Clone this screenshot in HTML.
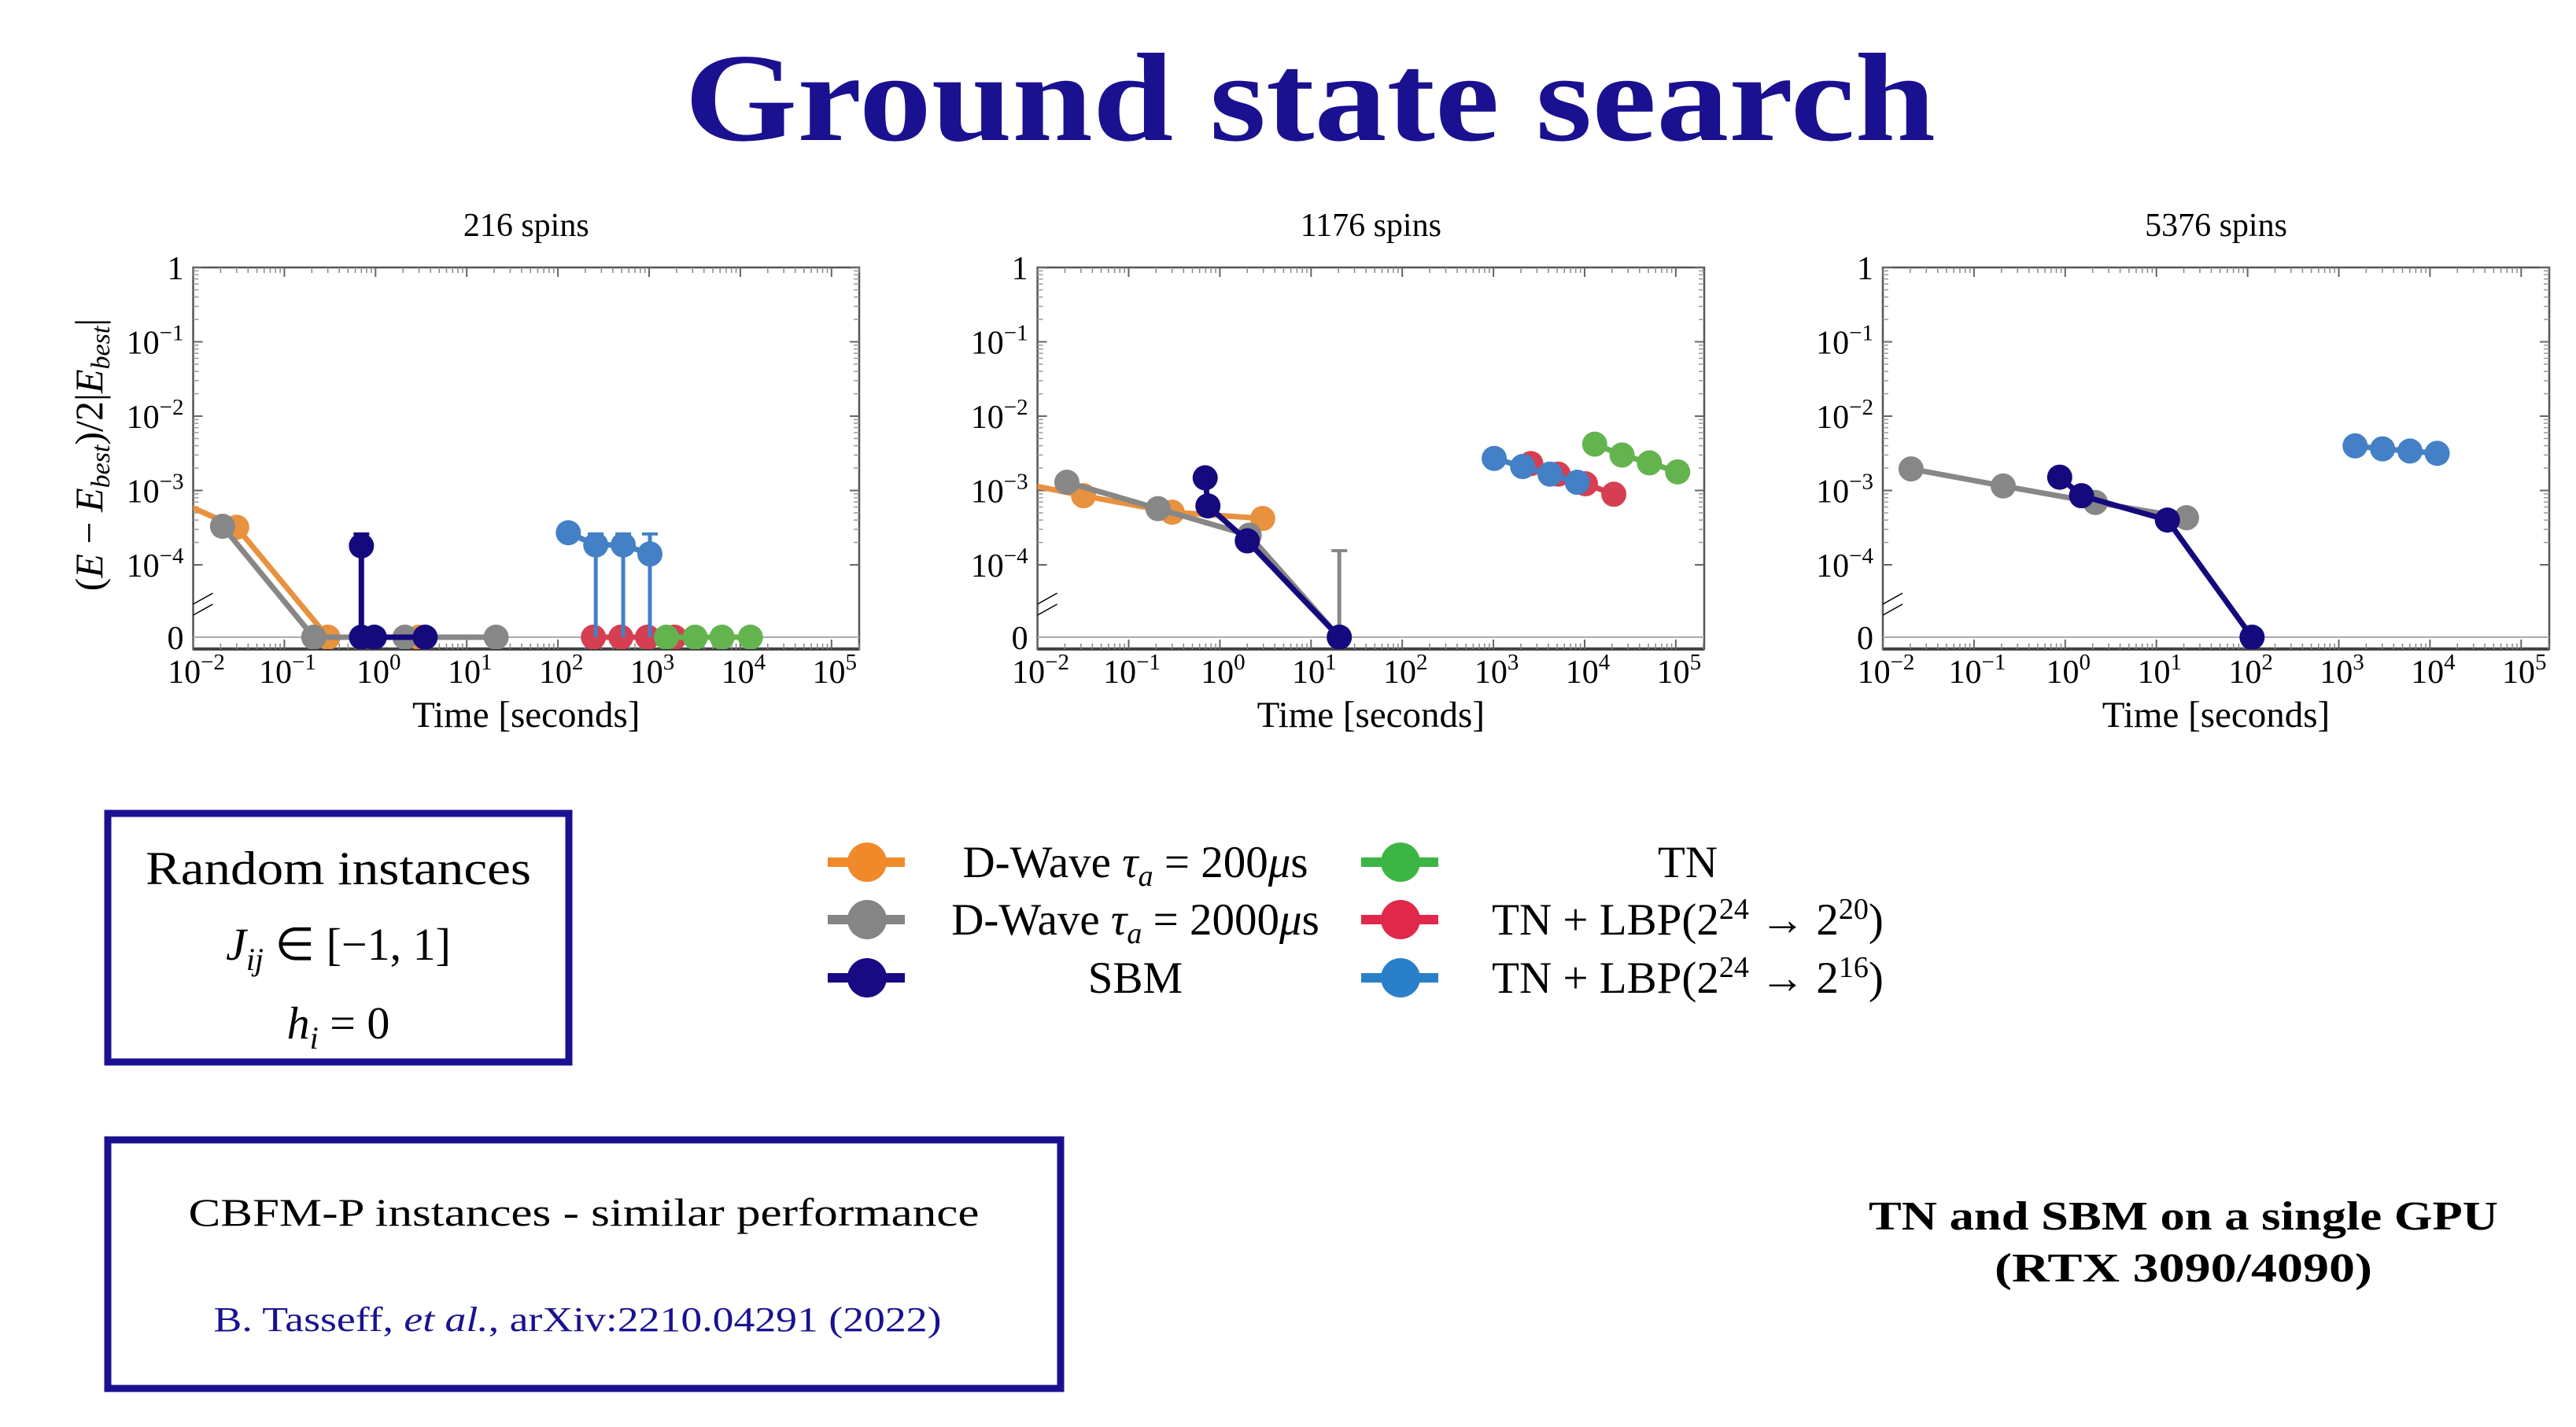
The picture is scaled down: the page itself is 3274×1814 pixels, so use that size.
<!DOCTYPE html>
<html><head><meta charset="utf-8"><style>
html,body{margin:0;padding:0;background:#fff;}
svg{display:block;}
</style></head><body>
<svg id="s" width="3274" height="1814" viewBox="0 0 3274 1814" xmlns="http://www.w3.org/2000/svg" font-family="'Liberation Serif', serif">
<text x="1665" y="178" text-anchor="middle" font-size="160" font-weight="bold" fill="#1a1190" textLength="1590" lengthAdjust="spacingAndGlyphs">Ground state search</text>
<g id="charts"></g>
<g id="legend"></g>
<rect x="137" y="1034" width="586" height="316" fill="none" stroke="#1a1190" stroke-width="9"/>
<text x="430" y="1124" text-anchor="middle" font-size="60" fill="#000" textLength="490" lengthAdjust="spacingAndGlyphs">Random instances</text>
<text x="430" y="1220" text-anchor="middle" font-size="58" fill="#000"><tspan font-style="italic">J</tspan><tspan font-style="italic" font-size="40" dy="13">ij</tspan><tspan dy="-13"> ∈ [−1, 1]</tspan></text>
<text x="430" y="1320" text-anchor="middle" font-size="58" fill="#000"><tspan font-style="italic">h</tspan><tspan font-style="italic" font-size="40" dy="13">i</tspan><tspan dy="-13"> = 0</tspan></text>
<rect x="137" y="1449" width="1211" height="316" fill="none" stroke="#1a1190" stroke-width="9"/>
<text x="742" y="1558" text-anchor="middle" font-size="50" fill="#000" textLength="1005" lengthAdjust="spacingAndGlyphs">CBFM-P instances - similar performance</text>
<text x="734" y="1692" text-anchor="middle" font-size="44" fill="#1a1190" textLength="925" lengthAdjust="spacingAndGlyphs">B. Tasseff, <tspan font-style="italic">et al.</tspan>, arXiv:2210.04291 (2022)</text>
<text x="2775" y="1563" text-anchor="middle" font-size="52" font-weight="bold" fill="#000" textLength="800" lengthAdjust="spacingAndGlyphs">TN and SBM on a single GPU</text>
<text x="2775" y="1629" text-anchor="middle" font-size="52" font-weight="bold" fill="#000" textLength="480" lengthAdjust="spacingAndGlyphs">(RTX 3090/4090)</text>
</svg>
<script>
const NS="http://www.w3.org/2000/svg";
const colors={orange:"#e8913e",gray:"#878787",navy:"#14097d",blue:"#4380c6",red:"#d63f51",green:"#63b44f"};
const chartTitles=["216 spins","1176 spins","5376 spins"];
const xTickExps=[-2,-1,0,1,2,3,4,5];
const yTickExps=[0,-1,-2,-3,-4];
// chart 1
const c1OrangeT=[0.005,0.03,0.3,3], c1OrangeY=[8.5e-4,3.2e-4,0,0];
const c1GrayT=[0.021,0.21,2.1,21], c1GrayY=[3.3e-4,0,0,0];
const c1NavyT=[0.7,0.7,0.97,3.5], c1NavyY=[1.8e-4,0,0,0];
const c1NavyErr=[2.6e-4,null,null,null];
const c1BlueT=[130,260,520,1020], c1BlueY=[2.7e-4,1.85e-4,1.85e-4,1.4e-4];
const c1BlueErr=[null,2.6e-4,2.6e-4,2.6e-4];
const c1RedT=[245,490,960,1900], c1RedY=[0,0,0,0];
const c1GreenT=[1550,3200,6300,12900], c1GreenY=[0,0,0,0];
// chart 2
const c2OrangeT=[0.005,0.032,0.3,2.95], c2OrangeY=[1.35e-3,8.5e-4,5.1e-4,4.2e-4];
const c2GrayT=[0.021,0.21,2.1,20.4], c2GrayY=[1.29e-3,5.7e-4,2.5e-4,0];
const c2GrayErr=[null,null,null,1.55e-4];
const c2NavyT=[0.69,0.74,2.0,20.4], c2NavyY=[1.48e-3,6.2e-4,2.1e-4,0];
const c2BlueT=[1020,2090,4170,8300], c2BlueY=[2.7e-3,2.1e-3,1.66e-3,1.29e-3];
const c2RedT=[2570,5130,10200,20900], c2RedY=[2.3e-3,1.66e-3,1.23e-3,8.9e-4];
const c2GreenT=[12900,25700,51300,104700], c2GreenY=[4.2e-3,3.0e-3,2.35e-3,1.78e-3];
// chart 3
const c3GrayT=[0.0204,0.209,2.14,21.4], c3GrayY=[1.95e-3,1.15e-3,6.9e-4,4.3e-4];
const c3NavyT=[0.87,1.51,13.2,112], c3NavyY=[1.51e-3,8.5e-4,4.0e-4,0];
const c3BlueT=[1510,3020,6030,12000], c3BlueY=[3.98e-3,3.63e-3,3.39e-3,3.16e-3];

const charts=[
 {x0:245.5,right:1092,series:[
  ["red",c1RedT,c1RedY,null],["green",c1GreenT,c1GreenY,null],
  ["orange",c1OrangeT,c1OrangeY,null],["gray",c1GrayT,c1GrayY,null],
  ["navy",c1NavyT,c1NavyY,c1NavyErr],["blue",c1BlueT,c1BlueY,c1BlueErr]]},
 {x0:1318.6,right:2166,series:[
  ["orange",c2OrangeT,c2OrangeY,null],["gray",c2GrayT,c2GrayY,c2GrayErr],["navy",c2NavyT,c2NavyY,null],
  ["red",c2RedT,c2RedY,null],["blue",c2BlueT,c2BlueY,null],["green",c2GreenT,c2GreenY,null]]},
 {x0:2393,right:3240,series:[
  ["gray",c3GrayT,c3GrayY,null],["navy",c3NavyT,c3NavyY,null],["blue",c3BlueT,c3BlueY,null]]}
];
const TOP=340,BOT=825,DEC=94.5,ZERO=810,XDEC=115.9;
function el(tag,attrs,parent){const e=document.createElementNS(NS,tag);for(const k in attrs)e.setAttribute(k,attrs[k]);parent.appendChild(e);return e;}
const root=document.getElementById('charts');
charts.forEach((c,ci)=>{
 const xs=t=>c.x0+(Math.log10(t)+2)*XDEC;
 const ys=v=>v===0?ZERO:TOP-Math.log10(v)*DEC;
 const g=el('g',{},root);
 
 
 el('defs',{},g).innerHTML='<clipPath id="clip'+ci+'"><rect x="'+c.x0+'" y="'+TOP+'" width="'+(c.right-c.x0)+'" height="'+(BOT-TOP)+'"/></clipPath>';
 const frame=el('rect',{x:c.x0,y:TOP,width:c.right-c.x0,height:BOT-TOP,fill:'none',stroke:'#555','stroke-width':2.5},g);
 
 
 el('line',{x1:c.x0,x2:c.right,y1:ZERO,y2:ZERO,stroke:'#aaa','stroke-width':2},g);
 el('line',{x1:c.x0,x2:c.right,y1:BOT,y2:BOT,stroke:'#444','stroke-width':4},g);
 xTickExps.forEach(e=>{
  const x=c.x0+(e+2)*XDEC;
  el('line',{x1:x,x2:x,y1:BOT,y2:BOT-12,stroke:'#666','stroke-width':2},g);
  el('line',{x1:x,x2:x,y1:TOP,y2:TOP+12,stroke:'#666','stroke-width':2},g);
  for(let m=2;m<10;m++){const xm=x+Math.log10(m)*XDEC; if(xm<c.right){
   el('line',{x1:xm,x2:xm,y1:BOT,y2:BOT-7,stroke:'#888','stroke-width':1.5},g);
   el('line',{x1:xm,x2:xm,y1:TOP,y2:TOP+7,stroke:'#888','stroke-width':1.5},g);}}
  const t=el('text',{x:x+4,y:868,'text-anchor':'middle','font-size':42,fill:'#000'},g);
  
  
  t.innerHTML='10<tspan dy="-17" font-size="29">'+(e<0?'−'+(-e):e)+'</tspan>';
 });
 yTickExps.forEach(e=>{
  const y=TOP-e*DEC;
  el('line',{x1:c.x0,x2:c.x0+12,y1:y,y2:y,stroke:'#666','stroke-width':2},g);
  el('line',{x1:c.right,x2:c.right-12,y1:y,y2:y,stroke:'#666','stroke-width':2},g);
  if(e>-4){for(let m=2;m<10;m++){const ym=y+DEC-Math.log10(m)*DEC;
   el('line',{x1:c.x0,x2:c.x0+7,y1:ym,y2:ym,stroke:'#999','stroke-width':1.5},g);
   el('line',{x1:c.right,x2:c.right-7,y1:ym,y2:ym,stroke:'#999','stroke-width':1.5},g);}}
  const t=el('text',{x:c.x0-12,y:y+15,'text-anchor':'end','font-size':42,fill:'#000'},g);
  
  
  t.innerHTML= e===0?'1':'10<tspan dy="-17" font-size="29">−'+(-e)+'</tspan>';
 });
 const z=el('text',{x:c.x0-12,y:ZERO+15,'text-anchor':'end','font-size':42,fill:'#000'},g);
 z.textContent='0';
 
 
 el('line',{x1:c.x0,y1:768,x2:c.x0+25,y2:754,stroke:'#000','stroke-width':1.5},g);
 el('line',{x1:c.x0,y1:782,x2:c.x0+25,y2:768,stroke:'#000','stroke-width':1.5},g);
 const tt=el('text',{x:(c.x0+c.right)/2,y:300,'text-anchor':'middle','font-size':42,fill:'#000'},g);
 tt.textContent=chartTitles[ci];
 
 
 const xl=el('text',{x:(c.x0+c.right)/2,y:924,'text-anchor':'middle','font-size':47,fill:'#000'},g);
 xl.textContent='Time [seconds]';
 
 
 if(ci===0){
  const yl=el('text',{x:0,y:0,'text-anchor':'middle','font-size':50,fill:'#000',transform:'translate(130,578) rotate(-90)'},g);
  yl.innerHTML='(<tspan font-style="italic">E</tspan> − <tspan font-style="italic">E</tspan><tspan font-style="italic" font-size="34" dy="9">best</tspan><tspan dy="-9">)/2|</tspan><tspan font-style="italic">E</tspan><tspan font-style="italic" font-size="34" dy="9">best</tspan><tspan dy="-9">|</tspan>';
  
  
 }
 const pg=el('g',{'clip-path':'url(#clip'+ci+')'},g);
 c.series.forEach(([col,T,Y,E])=>{
  const sg=el('g',{},pg);
  
  
  const pts=T.map((t,i)=>xs(t).toFixed(1)+','+ys(Y[i]).toFixed(1)).join(' ');
  el('polyline',{points:pts,fill:'none',stroke:colors[col],'stroke-width':7,'stroke-linejoin':'round'},sg);
  if(E){E.forEach((e,i)=>{if(e!==null){const x=xs(T[i]);
   el('line',{x1:x,x2:x,y1:ZERO,y2:ys(e),stroke:colors[col],'stroke-width':5},sg);
   el('line',{x1:x-10,x2:x+10,y1:ys(e),y2:ys(e),stroke:colors[col],'stroke-width':4},sg);}});}
  T.forEach((t,i)=>{
   const m=el('circle',{cx:xs(t),cy:ys(Y[i]),r:16,fill:colors[col]},sg);
   
   
  });
 });
});
const legLabels=[
 ['orange',1102,1096,1443,'D-Wave <tspan font-style="italic">τ</tspan><tspan font-style="italic" font-size="38" dy="11">a</tspan><tspan dy="-11"> = 200</tspan><tspan font-style="italic">μ</tspan>s'],
 ['gray',1102,1169,1443,'D-Wave <tspan font-style="italic">τ</tspan><tspan font-style="italic" font-size="38" dy="11">a</tspan><tspan dy="-11"> = 2000</tspan><tspan font-style="italic">μ</tspan>s'],
 ['navy',1102,1243,1443,'SBM'],
 ['green',1780,1096,2145,'TN'],
 ['red',1780,1169,2145,'TN + LBP(2<tspan dy="-20" font-size="38">24</tspan><tspan dy="20"> → 2</tspan><tspan dy="-20" font-size="38">20</tspan><tspan dy="20">)</tspan>'],
 ['blue',1780,1243,2145,'TN + LBP(2<tspan dy="-20" font-size="38">24</tspan><tspan dy="20"> → 2</tspan><tspan dy="-20" font-size="38">16</tspan><tspan dy="20">)</tspan>']
];
const legCol={orange:"#f0892a",gray:"#858585",navy:"#170a82",green:"#3db545",red:"#e0284a",blue:"#2a80c8"};
const lg=document.getElementById('legend');
legLabels.forEach(([col,mx,my,tx,html])=>{
 const g=el('g',{},lg);
 
 
 el('line',{x1:mx-50,x2:mx+48,y1:my,y2:my,stroke:legCol[col],'stroke-width':12},g);
 el('circle',{cx:mx,cy:my,r:25,fill:legCol[col]},g);
 const t=el('text',{x:tx,y:my+19,'text-anchor':'middle','font-size':57,fill:'#000'},g);
 t.innerHTML=html;
});
</script>
</body></html>
